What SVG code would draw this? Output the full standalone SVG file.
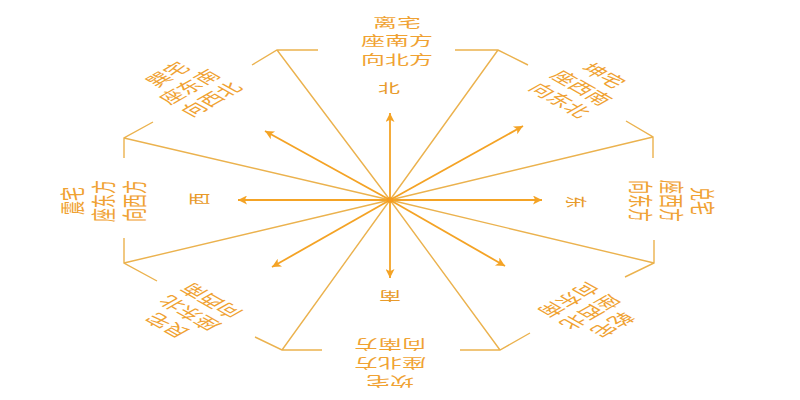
<svg xmlns="http://www.w3.org/2000/svg" width="800" height="400" viewBox="0 0 800 400">
<defs>
<style>
.lbl text{font-family:"Noto Sans CJK SC","Noto Sans",sans-serif;font-size:14px;fill:#F0A232;text-anchor:middle;dominant-baseline:central}
.lbl.axis text{font-size:12.6px}
.dir text{font-family:"Noto Sans CJK SC","Noto Sans",sans-serif;font-size:12.5px;fill:#E89A2A;text-anchor:middle;dominant-baseline:central}
.spoke{fill:none;stroke:#EBB24E;stroke-width:1.4;stroke-linejoin:miter}
.arrow{stroke:#F4A325;stroke-width:1.8;marker-end:url(#ah)}
</style>
<marker id="ah" viewBox="0 0 10 10" refX="10" refY="5" markerWidth="11" markerHeight="9" markerUnits="userSpaceOnUse" orient="auto">
<path d="M0,0 L10,5 L0,10 L2.5,5 Z" fill="#F4A325"/>
</marker>
</defs>
<rect width="800" height="400" fill="#FFFFFF"/>
<g id="connectors">
<g id="frame">
<path class="spoke" d="M390,200 L277,50 M252,65 L277,50 L318,50"/>
<path class="spoke" d="M390,200 L498,50 M455,50 L498,50 L528,65"/>
<path class="spoke" d="M390,200 L653,137 M626,121 L653,137 L653,158"/>
<path class="spoke" d="M390,200 L654,263 M654,240 L654,263 L625,277"/>
<path class="spoke" d="M390,200 L500,350 M530,333 L500,350 L460,350"/>
<path class="spoke" d="M390,200 L282,350 M322,350 L282,350 L255,337"/>
<path class="spoke" d="M390,200 L124,263 M157,281 L124,263 L124,238"/>
<path class="spoke" d="M390,200 L124,138 M124,158 L124,138 L153,122"/>
</g>
<g id="arrows">
<line class="arrow" x1="390" y1="200" x2="390" y2="113"/>
<line class="arrow" x1="390" y1="200" x2="390" y2="278"/>
<line class="arrow" x1="390" y1="200" x2="238" y2="200"/>
<line class="arrow" x1="390" y1="200" x2="542" y2="200"/>
<line class="arrow" x1="390" y1="200" x2="265" y2="131"/>
<line class="arrow" x1="390" y1="200" x2="523" y2="126"/>
<line class="arrow" x1="390" y1="200" x2="272" y2="267"/>
<line class="arrow" x1="390" y1="200" x2="505" y2="266"/>
</g>
<circle cx="390" cy="200" r="3" fill="#F49A1E" opacity="0.85"/>
</g>
<g id="li" class="lbl axis" transform="translate(397,40) scale(1.9,1)">
<text><tspan x="0" y="-18.5">离宅</tspan><tspan x="0" y="0">座南方</tspan><tspan x="0" y="18.5">向北方</tspan></text>
</g>
<g id="kun" class="lbl" transform="translate(583,87) scale(1.76,1) rotate(45)">
<text><tspan x="0" y="-17.5">坤宅</tspan><tspan x="0" y="0">座西南</tspan><tspan x="0" y="17.5">向东北</tspan></text>
</g>
<g id="dui" class="lbl" transform="translate(673,201) scale(1.76,1) rotate(90)">
<text><tspan x="0" y="-17.5">兑宅</tspan><tspan x="0" y="0">座西方</tspan><tspan x="0" y="17.5">向东方</tspan></text>
</g>
<g id="qian" class="lbl" transform="translate(592,313) scale(1.76,1) rotate(135)">
<text><tspan x="0" y="-17.5">乾宅</tspan><tspan x="0" y="0">座西北</tspan><tspan x="0" y="17.5">向东南</tspan></text>
</g>
<g id="kan" class="lbl axis" transform="translate(390,364) scale(1.9,1) rotate(180)">
<text><tspan x="0" y="-18.5">坎宅</tspan><tspan x="0" y="0">座北方</tspan><tspan x="0" y="18.5">向南方</tspan></text>
</g>
<g id="gen" class="lbl" transform="translate(188,314) scale(1.76,1) rotate(225)">
<text><tspan x="0" y="-17.5">艮宅</tspan><tspan x="0" y="0">座东北</tspan><tspan x="0" y="17.5">向西南</tspan></text>
</g>
<g id="zhen" class="lbl" transform="translate(102,201) scale(1.76,1) rotate(270)">
<text><tspan x="0" y="-17.5">震宅</tspan><tspan x="0" y="0">座东方</tspan><tspan x="0" y="17.5">向西方</tspan></text>
</g>
<g id="xun" class="lbl" transform="translate(188,86) scale(1.76,1) rotate(315)">
<text><tspan x="0" y="-17.5">巽宅</tspan><tspan x="0" y="0">座东南</tspan><tspan x="0" y="17.5">向西北</tspan></text>
</g>
<g id="dir-north" class="dir" transform="translate(389,87) scale(1.76,1)"><text>北</text></g>
<g id="dir-east" class="dir" transform="translate(578,202) scale(1.76,1) rotate(90)"><text>东</text></g>
<g id="dir-south" class="dir" transform="translate(390,297) scale(1.76,1) rotate(180)"><text>南</text></g>
<g id="dir-west" class="dir" transform="translate(197,199) scale(1.76,1) rotate(270)"><text>西</text></g>
</svg>
